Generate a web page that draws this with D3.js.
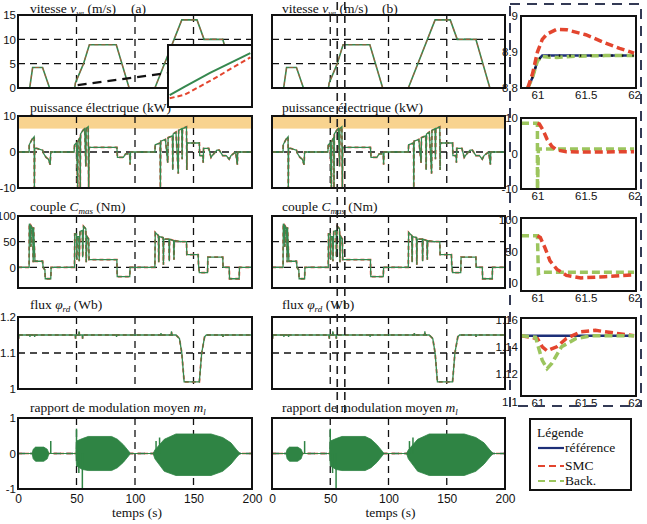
<!DOCTYPE html>
<html>
<head>
<meta charset="utf-8">
<script src="https://cdn.jsdelivr.net/npm/d3@7"></script>
<style>
body { margin: 0; background: #fff; }
svg text { font-family: "Liberation Sans", Arial, sans-serif; font-size: 12px; fill: #111; }
svg text.ttl { font-family: "Liberation Serif", "Times New Roman", serif; font-size: 13.5px; }
</style>
</head>
<body>
<div id="plot"></div>
<script>
// time axis
var tTicks = [0, 50, 100, 150, 200];
var tGrid = [50, 100, 150];

// vitesse (m/s)
var speedT = [0, 10, 12.5, 21, 27, 48.5, 49, 56, 61, 84, 95, 117, 140, 153, 159, 175, 187, 200];
var speedV = [0, 0, 4.2, 4.2, 0, 0, 1, 5, 8.9, 8.9, 0, 0, 14, 14, 10, 10, 0, 0];

// puissance electrique (kW)
var powerT = [0,9.5,9.6,12,13.8,14,14.3,16,21,22,24,26,27.5,28,48,48.3,50,51,51.3,53,53.2,53.5,55.5,57,58,58.3,60,60.4,60.7,84.5,85,90,92,95.5,95.8,96.2,117,117.3,121.5,121.7,122,126,128,128.3,132,132.3,132.6,135,137,137.3,140,140.3,140.6,144,144.3,144.5,155,155.3,158,158.3,158.6,163,165,166,170,172,175,178,180.5,182,186,187.5,187.8,200];
var powerV = [0,0,2,3.5,4.2,-10,1,1,0.5,-0.5,-1.5,-2,-3.5,0,0,2,2.5,-10,3,4,-10,5,6,6.5,-4,6.5,7,-10,1.3,1.3,-1.5,-1.5,-0.5,-0.5,-3.5,0,0,2,2.5,-10,3,3.5,-3,4,4.5,-5,5,5.5,-6,6,6.5,-2,6.5,7,-5,2.5,2.5,-1,-1,-3,1,1,-1.5,-1,0.5,0.5,-1,-1,-2,-1,0,-3.5,0,0];
var powerLimit = [6.5, 10];

// couple (Nm)
var torqueT = [0,9.5,9.7,10.5,11,11.3,12.5,13,13.3,14.5,21,21.5,23,23.3,28,28.3,48.3,48.5,50,50.3,50.6,52,52.3,53,55,55.3,56,58,58.3,59,60.4,60.7,84.5,84.8,95.5,95.8,117,117.3,120,120.3,120.6,124,124.3,124.6,129,129.3,129.6,133,133.3,133.6,139.5,144,144.3,154,154.3,155,162,162.3,175,175.3,180.5,180.8,189,189.3,200];
var torqueV = [0,0,85,80,40,80,75,10,78,12,12,0,-5,-22,-22,0,0,65,65,15,60,60,12,70,72,20,80,75,10,60,55,15,15,-18,-18,0,0,68,62,10,60,58,5,55,55,12,55,52,15,52,50,50,25,25,5,-10,-10,20,20,0,0,-22,-22,0,0];

// flux (Wb)
var fluxT = [0,0.5,1,10,10.2,10.5,14,14.2,14.5,49,49.2,49.5,52,52.2,52.5,55,55.2,55.5,84,84.2,84.5,122,122.2,122.5,131,131.2,131.5,135,138,140,142,155,157,159.5,161,175,175.2,175.5,200];
var fluxV = [1.15,1.14,1.15,1.15,1.145,1.15,1.15,1.145,1.15,1.15,1.14,1.15,1.15,1.16,1.15,1.15,1.14,1.15,1.15,1.145,1.15,1.15,1.155,1.15,1.15,1.16,1.15,1.15,1.14,1.10,1.02,1.02,1.1,1.145,1.15,1.15,1.145,1.15,1.15];

// rapport de modulation (envelope of the oscillation)
var modT = [0,12,13,15,22,25,26.5,27,49.5,50,55,60,80,85,90,95,96,115.5,117,125,135,165,175,182,187,189,190,200];
var modUp = [0,0,0.12,0.18,0.18,0.12,0,0,0,0.35,0.42,0.48,0.48,0.4,0.25,0.05,0,0,0.1,0.4,0.55,0.55,0.45,0.3,0.1,0.03,0,0];
var modLow = [0,0,-0.15,-0.22,-0.22,-0.15,0,0,0,-0.35,-0.45,-0.48,-0.48,-0.4,-0.25,-0.05,0,0,-0.15,-0.5,-0.62,-0.62,-0.5,-0.3,-0.1,-0.03,0,0];
var modSpikeT = [28, 50, 52, 55, 118, 121];
var modSpikeV = [0.35, 0.7, -0.55, -1, 0.35, 0.45];

// inset (zoom on the speed ramp)
var insetT = [0.02, 0.2, 0.5, 0.98];
var insetBack = [0.19, 0.33, 0.55, 0.87];
var insetSmc = [0.14, 0.2, 0.42, 0.8];

// zoom column, t = 60.8 .. 62 s
var zTicks = [61, 61.5, 62];
var zSpeedT = [60.9, 60.95, 61, 61.05, 61.1, 61.2, 61.3, 61.5, 61.7, 61.85, 62];
var zSpeedRef = [8.8, 8.83, 8.875, 8.89, 8.89, 8.89, 8.89, 8.89, 8.89, 8.89, 8.89];
var zSpeedSmc = [8.8, 8.84, 8.9, 8.935, 8.95, 8.963, 8.962, 8.948, 8.925, 8.91, 8.897];
var zSpeedBack = [8.8, 8.83, 8.875, 8.888, 8.886, 8.885, 8.887, 8.889, 8.89, 8.89, 8.89];

var zPowBackT = [60.83, 61, 61, 61.01, 62];
var zPowBack = [8.5, 8.5, -12, 1.3, 1.3];
var zPowSmcT = [61, 61.02, 61.06, 61.1, 61.15, 61.2, 61.3, 61.5, 62];
var zPowSmc = [8.5, 8.3, 6.5, 4, 2, 1, 0.5, 0.4, 0.5];

var zTorBackT = [60.83, 61, 61.01, 61.05, 62];
var zTorBack = [75, 75, 15, 17, 17];
var zTorSmcT = [61, 61.03, 61.08, 61.13, 61.2, 61.3, 61.45, 61.7, 62];
var zTorSmc = [75, 72, 55, 35, 22, 12, 8, 10, 13];

var zFluxRefT = [60.83, 62];
var zFluxRef = [1.148, 1.148];
var zFluxSmcT = [60.83, 61, 61.05, 61.1, 61.2, 61.3, 61.45, 61.6, 61.8, 62];
var zFluxSmc = [1.148, 1.146, 1.14, 1.137, 1.14, 1.146, 1.151, 1.152, 1.15, 1.148];
var zFluxBackT = [60.83, 60.98, 61.05, 61.1, 61.15, 61.25, 61.4, 61.55, 62];
var zFluxBack = [1.148, 1.147, 1.13, 1.124, 1.128, 1.14, 1.146, 1.148, 1.148];

var legendLabels = ['référence', 'SMC', 'Back.'];

var GREEN = '#36884f', RED = '#e3452e', LGREEN = '#9cc55e', NAVY = '#1d2f78';

var svg = d3.select('#plot')
    .append('svg')
    .attr('width', 647)
    .attr('height', 524);

var clipCount = 0;
function makePanel(xr, yr, xd, yd) {
    var p = {
        x: d3.scaleLinear().domain(xd).range(xr),
        y: d3.scaleLinear().domain(yd).range([yr[1], yr[0]]),
        xr: xr, yr: yr
    };
    var id = 'clip' + (clipCount++);
    svg.append('clipPath').attr('id', id)
        .append('rect')
        .attr('x', xr[0]).attr('y', yr[0])
        .attr('width', xr[1] - xr[0]).attr('height', yr[1] - yr[0]);
    p.g = svg.append('g').attr('clip-path', 'url(#' + id + ')');
    return p;
}

function grid(p, xs, ys) {
    xs.forEach(function (v) {
        p.g.append('line')
            .attr('x1', p.x(v)).attr('x2', p.x(v))
            .attr('y1', p.yr[0]).attr('y2', p.yr[1])
            .attr('stroke', '#111').attr('stroke-width', 1.3)
            .attr('stroke-dasharray', '7,5');
    });
    ys.forEach(function (v) {
        p.g.append('line')
            .attr('x1', p.xr[0]).attr('x2', p.xr[1])
            .attr('y1', p.y(v)).attr('y2', p.y(v))
            .attr('stroke', '#111').attr('stroke-width', 1.3)
            .attr('stroke-dasharray', '7,5');
    });
}

function series(p, ts, vs, color, width, dash) {
    var line = d3.line()
        .x(function (d) { return p.x(d[0]); })
        .y(function (d) { return p.y(d[1]); });
    var path = p.g.append('path')
        .attr('d', line(d3.zip(ts, vs)))
        .attr('fill', 'none')
        .attr('stroke', color)
        .attr('stroke-width', width);
    if (dash) path.attr('stroke-dasharray', dash);
    return path;
}

function frame(p) {
    svg.append('rect')
        .attr('x', p.xr[0]).attr('y', p.yr[0])
        .attr('width', p.xr[1] - p.xr[0]).attr('height', p.yr[1] - p.yr[0])
        .attr('fill', 'none').attr('stroke', '#111').attr('stroke-width', 2);
}

function yAxis(p, ticks, size, pad) {
    var g = svg.append('g')
        .attr('transform', 'translate(' + p.xr[0] + ',0)')
        .call(d3.axisLeft(p.y).tickValues(ticks).tickSize(0).tickPadding(pad || 3).tickFormat(function (d) { return d; }));
    g.select('.domain').remove();
    g.selectAll('text').style('font-size', (size || 12) + 'px').style('font-family', '"Liberation Sans", Arial, sans-serif').attr('fill', '#111');
}

function xAxis(p, ticks, size, pad) {
    var g = svg.append('g')
        .attr('transform', 'translate(0,' + p.yr[1] + ')')
        .call(d3.axisBottom(p.x).tickValues(ticks).tickSize(0).tickPadding(pad || 4).tickFormat(function (d) { return d; }));
    g.select('.domain').remove();
    g.selectAll('text').style('font-size', (size || 12) + 'px').style('font-family', '"Liberation Sans", Arial, sans-serif').attr('fill', '#111');
}

function title(x, y, parts) {
    var t = svg.append('text').attr('class', 'ttl').attr('x', x).attr('y', y);
    parts.forEach(function (pt) {
        var s = t.append('tspan').text(pt[0]);
        if (pt[1] === 'i') s.style('font-style', 'italic');
        if (pt[1] === 'sub') s.style('font-style', 'italic').style('font-size', '9px').attr('dy', 3);
        if (pt[1] === 'back') s.attr('dy', -3);
    });
}

var rows = [
    { yr: [15, 88], yd: [0, 15], ticks: [0, 5, 10, 15], grid: [5, 10] },
    { yr: [116, 188], yd: [-10, 10], ticks: [-10, 0, 10], grid: [0] },
    { yr: [216, 288], yd: [-40, 100], ticks: [0, 50, 100], grid: [0, 50] },
    { yr: [317, 389], yd: [1, 1.2], ticks: [1, 1.1, 1.2], grid: [1.1] },
    { yr: [418, 489], yd: [-1, 1], ticks: [-1, 0, 1], grid: [0] }
];
var cols = [
    { xr: [18, 252], labels: true, tx: 30, tag: '(a)', tagX: 131 },
    { xr: [272, 505], labels: false, tx: 282, tag: '(b)', tagX: 382 }
];

var titleY = [13, 112, 211, 309, 412];

cols.forEach(function (c) {
    var ps = rows.map(function (r) { return makePanel(c.xr, r.yr, [0, 200], r.yd); });

    // orange band on the power panel
    ps[1].g.append('rect')
        .attr('x', c.xr[0]).attr('width', c.xr[1] - c.xr[0])
        .attr('y', ps[1].y(powerLimit[1])).attr('height', ps[1].y(powerLimit[0]) - ps[1].y(powerLimit[1]))
        .attr('fill', '#f8d38f');

    ps.forEach(function (p, i) { grid(p, tGrid, rows[i].grid); });

    series(ps[0], speedT, speedV, GREEN, 1.6);
    series(ps[0], speedT, speedV, RED, 1.1, '4,3').attr('opacity', 0.6);

    series(ps[1], powerT, powerV, RED, 1.8, '4,3');
    series(ps[1], powerT, powerV, GREEN, 1.3);

    series(ps[2], torqueT, torqueV, RED, 1.8, '4,3');
    series(ps[2], torqueT, torqueV, GREEN, 1.3);

    series(ps[3], fluxT, fluxV, RED, 1.8, '4,3');
    series(ps[3], fluxT, fluxV, GREEN, 1.3);

    series(ps[4], modT, modT.map(function () { return 0; }), RED, 1.6, '4,3');
    var area = d3.area()
        .x(function (d) { return ps[4].x(d[0]); })
        .y0(function (d) { return ps[4].y(d[2]); })
        .y1(function (d) { return ps[4].y(d[1]); });
    ps[4].g.append('path')
        .attr('d', area(d3.zip(modT, modUp, modLow)))
        .attr('fill', '#2f8444')
        .attr('stroke', '#2f8444').attr('stroke-width', 0.8);
    ps[4].g.selectAll('.spike')
        .data(d3.zip(modSpikeT, modSpikeV))
        .enter().append('line')
        .attr('x1', function (d) { return ps[4].x(d[0]); })
        .attr('x2', function (d) { return ps[4].x(d[0]); })
        .attr('y1', ps[4].y(0))
        .attr('y2', function (d) { return ps[4].y(d[1]); })
        .attr('stroke', '#2f8444').attr('stroke-width', 1.5);

    ps.forEach(function (p, i) {
        frame(p);
        if (c.labels) yAxis(p, rows[i].ticks, 11.5, 2);
    });
    xAxis(ps[4], tTicks, 12, 5);

    title(c.tx, titleY[0], [['vitesse '], ['v', 'i'], ['ve', 'sub'], [' (m/s)', 'back']]);
    svg.append('text').attr('class', 'ttl').attr('x', c.tagX).attr('y', titleY[0]).text(c.tag);
    title(c.tx, titleY[1], [['puissance électrique (kW)']]);
    title(c.tx, titleY[2], [['couple '], ['C', 'i'], ['mas', 'sub'], [' (Nm)', 'back']]);
    title(c.tx, titleY[3], [['flux '], ['φ', 'i'], ['rd', 'sub'], [' (Wb)', 'back']]);
    title(c.tx, titleY[4], [['rapport de modulation moyen '], ['m', 'i'], ['l', 'sub']]);
    svg.append('text').attr('class', 'ttl')
        .attr('x', (c.xr[0] + c.xr[1]) / 2 + 2).attr('y', 517)
        .attr('text-anchor', 'middle').text('temps (s)');

    if (c.labels) {
        // dashed pointer from the ramp to the inset
        var ins = makePanel([168, 252], [45, 107], [0, 1], [0, 1]);
        svg.append('line')
            .attr('x1', ps[0].x(51)).attr('y1', ps[0].y(0.6))
            .attr('x2', ins.xr[0]).attr('y2', ins.y(0.55))
            .attr('stroke', '#111').attr('stroke-width', 2.2)
            .attr('stroke-dasharray', '9,6');
        ins.g.append('rect')
            .attr('x', 168).attr('y', 45).attr('width', 84).attr('height', 62)
            .attr('fill', '#fff');
        series(ins, insetT, insetBack, GREEN, 2);
        series(ins, insetT, insetSmc, RED, 2, '5,3');
        frame(ins);
    } else {
        // highlighted time window
        [56, 62.5].forEach(function (v) {
            svg.append('line')
                .attr('x1', ps[0].x(v)).attr('x2', ps[0].x(v))
                .attr('y1', 2).attr('y2', 415)
                .attr('stroke', '#222').attr('stroke-width', 1.6)
                .attr('stroke-dasharray', '8,5');
        });
    }
});

// zoom column
var zx = [521, 636];
var zd = [60.83, 62.02];
var zRows = [
    { yr: [16, 88], yd: [8.8, 9], ticks: [8.8, 8.9, 9] },
    { yr: [118, 189], yd: [-10, 10], ticks: [-10, 0, 10] },
    { yr: [218, 291], yd: [-12.7, 103], ticks: [0, 50, 100] },
    { yr: [318, 396], yd: [1.104, 1.161], ticks: [1.1, 1.12, 1.14, 1.16] }
];
var zp = zRows.map(function (r) { return makePanel(zx, r.yr, zd, r.yd); });

var DASH = '8,4';
series(zp[0], zSpeedT, zSpeedRef, NAVY, 2.5);
series(zp[0], zSpeedT, zSpeedBack, LGREEN, 3.5, DASH);
series(zp[0], zSpeedT, zSpeedRef, '#111', 2.2, '1.5,9');
series(zp[0], zSpeedT, zSpeedSmc, RED, 3.5, DASH);

series(zp[1], zPowBackT, zPowBack, LGREEN, 3.5, DASH);
series(zp[1], zPowSmcT, zPowSmc, RED, 3.5, DASH);

series(zp[2], zTorBackT, zTorBack, LGREEN, 3.5, DASH);
series(zp[2], zTorSmcT, zTorSmc, RED, 3.5, DASH);

series(zp[3], zFluxRefT, zFluxRef, NAVY, 2.5);
series(zp[3], zFluxSmcT, zFluxSmc, RED, 3.5, DASH);
series(zp[3], zFluxBackT, zFluxBack, LGREEN, 3.5, DASH);

zp.forEach(function (p, i) {
    frame(p);
    yAxis(p, zRows[i].ticks, 11.5);
    xAxis(p, zTicks, 11.5, 3);
});

svg.append('rect')
    .attr('x', 510).attr('y', 4).attr('width', 131).attr('height', 402)
    .attr('fill', 'none').attr('stroke', '#333a55').attr('stroke-width', 2)
    .attr('stroke-dasharray', '10,7');

// legend
var lg = svg.append('g').attr('transform', 'translate(530,419)');
lg.append('rect').attr('width', 101).attr('height', 71)
    .attr('fill', '#fff').attr('stroke', '#111').attr('stroke-width', 2);
lg.append('text').attr('class', 'ttl').attr('x', 7).attr('y', 18).text('Légende');
var legColors = [NAVY, RED, LGREEN];
var legDash = [null, '7,4', '7,4'];
var legY = [29, 47, 62];
legendLabels.forEach(function (l, i) {
    var ln = lg.append('line')
        .attr('x1', 8).attr('x2', 34)
        .attr('y1', legY[i]).attr('y2', legY[i])
        .attr('stroke', legColors[i]).attr('stroke-width', 2.2);
    if (legDash[i]) ln.attr('stroke-dasharray', legDash[i]);
    lg.append('text').attr('class', 'ttl').attr('x', 35).attr('y', legY[i] + 4).text(l);
});
</script>
</body>
</html>
